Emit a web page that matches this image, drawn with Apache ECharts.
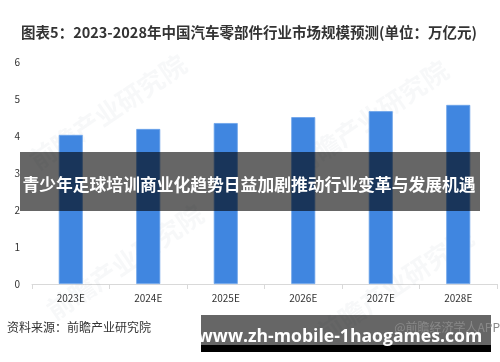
<!DOCTYPE html>
<html><head><meta charset="utf-8">
<script src="https://cdn.jsdelivr.net/npm/echarts@6/dist/echarts.min.js"></script>
<style>html,body{margin:0;padding:0;background:#fff}#c{width:500px;height:362px}</style>
</head><body><div id="c"></div>
<script>
const categories = ['2023E','2024E','2025E','2026E','2027E','2028E'];
const values = [4.03, 4.19, 4.35, 4.51, 4.67, 4.84];
const yTicks = [0, 1, 2, 3, 4, 5, 6];
const titleText = '图表5：2023-2028年中国汽车零部件行业市场规模预测(单位：万亿元)';
const sourceText = '资料来源：前瞻产业研究院';
const bannerText = '青少年足球培训商业化趋势日益加剧推动行业变革与发展机遇';
const urlText = 'www.zh-mobile-1haogames.com';
const appText = '@前瞻经济学人APP';
const watermark = '前瞻产业研究院';

const font = '"Noto Sans CJK SC", "Noto Sans", sans-serif';
const chart = echarts.init(document.getElementById('c'), null, {renderer: 'canvas'});
function wm(x, y) {
  return {type: 'text', x: x, y: y, rotation: 34 * Math.PI / 180, z: 1,
    style: {text: watermark, fill: 'rgba(120,130,150,0.06)', font: 'bold 26px ' + font, align: 'center', verticalAlign: 'middle'}};
}
chart.setOption({
  animation: false,
  grid: {left: 32, right: 3, top: 62, bottom: 78},
  xAxis: {
    type: 'category', data: categories,
    axisLine: {lineStyle: {color: '#d9d9d9'}},
    axisTick: {show: true, length: 5, lineStyle: {color: '#d9d9d9'}},
    axisLabel: {color: '#333', fontSize: 10, margin: 9, fontFamily: font}
  },
  yAxis: {
    type: 'value', min: yTicks[0], max: yTicks[yTicks.length - 1], interval: 1,
    splitLine: {show: false}, axisLine: {show: false}, axisTick: {show: false},
    axisLabel: {color: '#333', fontSize: 10, margin: 12, fontFamily: font}
  },
  series: [{
    type: 'bar', data: values, barWidth: 24, z: 2,
    itemStyle: {color: '#4086e0', borderColor: '#6aa2ea', borderWidth: 0.8}
  }],
  graphic: [
    {type: 'text', x: 249, y: 32, z: 10,
      style: {text: titleText, fill: '#333', font: 'bold 14.5px ' + font, align: 'center', verticalAlign: 'middle'}},
    wm(108, 112), wm(370, 118), wm(125, 262), wm(395, 285),
    {type: 'text', x: 7, y: 327, z: 10,
      style: {text: sourceText, fill: '#333', font: '12px ' + font, verticalAlign: 'middle'}},
    {type: 'rect', shape: {x: 20, y: 152, width: 460, height: 59}, z: 20,
      style: {fill: 'rgba(0,0,0,0.6)'}},
    {type: 'text', x: 249, y: 185, z: 21,
      style: {text: bannerText, fill: '#fff', font: 'bold 16.8px ' + font, align: 'center', verticalAlign: 'middle'}},
    {type: 'rect', shape: {x: 201, y: 315, width: 290, height: 30}, z: 20,
      style: {fill: 'rgba(0,0,0,0.6)'}},
    {type: 'rect', shape: {x: 201, y: 345, width: 290, height: 7}, z: 20,
      style: {fill: '#000'}},
    {type: 'text', x: 500, y: 327, z: 21,
      style: {text: appText, fill: '#888', font: '12px ' + font, align: 'right', verticalAlign: 'middle'}},
    {type: 'text', x: 340, y: 337, z: 22,
      style: {text: urlText, fill: '#fff', font: 'bold 17.6px "Open Sans", "DejaVu Sans", sans-serif', align: 'center', verticalAlign: 'middle'}}
  ]
});
</script></body></html>
